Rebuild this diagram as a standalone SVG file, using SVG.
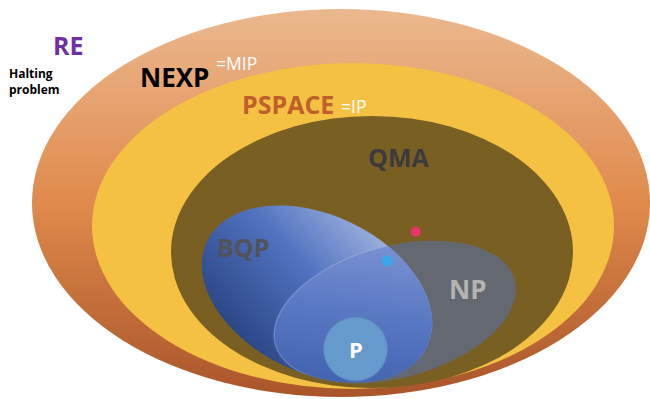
<svg xmlns="http://www.w3.org/2000/svg" width="650" height="399" viewBox="0 0 650 399">
  <defs>
    <linearGradient id="gOuter" x1="0" y1="0" x2="0" y2="1">
      <stop offset="0" stop-color="#EBB88F"/>
      <stop offset="0.5" stop-color="#E08A4C"/>
      <stop offset="1" stop-color="#A9552A"/>
    </linearGradient>
    <linearGradient id="gBQP" gradientUnits="userSpaceOnUse" x1="330" y1="205" x2="262" y2="378">
      <stop offset="0" stop-color="#9CB0DE"/>
      <stop offset="0.42" stop-color="#5072BF"/>
      <stop offset="1" stop-color="#28427F"/>
    </linearGradient>
    <linearGradient id="gOver" gradientUnits="userSpaceOnUse" x1="390" y1="240" x2="330" y2="385">
      <stop offset="0" stop-color="#7890D0"/>
      <stop offset="0.5" stop-color="#5676C2"/>
      <stop offset="1" stop-color="#3F5FAC"/>
    </linearGradient>
    <clipPath id="clipBQP">
      <ellipse cx="317" cy="294" rx="122" ry="79" transform="rotate(25.5 317 294)"/>
    </clipPath>
    <style>
      text { font-family: "Open Sans", "Noto Sans", "Liberation Sans", sans-serif; }
      .b { font-weight: 700; }
      .eq { font-size: 17.5px; fill: #FFFFFF; }
      .halt { font-size: 12px; font-weight: 700; fill: #000000; }
    </style>
  </defs>

  <g id="nexp">
    <ellipse cx="341" cy="203" rx="309" ry="194" fill="url(#gOuter)"/>
    <text class="b" x="140" y="87" font-size="26" fill="#000000">NEXP</text>
    <text class="eq" x="216" y="70">=MIP</text>
  </g>

  <g id="pspace">
    <ellipse cx="353" cy="226" rx="261" ry="163" fill="#F4C143"/>
    <text class="b" x="242" y="114" font-size="25" fill="#BF5F2A">PSPACE</text>
    <text class="eq" x="341" y="113">=IP</text>
  </g>

  <g id="qma">
    <ellipse cx="372" cy="252" rx="201" ry="136" fill="#7A5F22"/>
    <text class="b" x="368" y="167" font-size="25" fill="#3B3B3D">QMA</text>
  </g>

  <g id="np">
    <ellipse cx="395" cy="312" rx="124" ry="66" transform="rotate(-15 395 312)" fill="#646870"/>
    <text class="b" x="449" y="299" font-size="26" fill="#B4B4B4">NP</text>
  </g>

  <g id="bqp">
    <ellipse cx="317" cy="294" rx="122" ry="79" transform="rotate(25.5 317 294)" fill="url(#gBQP)"/>
    <g clip-path="url(#clipBQP)">
      <ellipse cx="395" cy="312" rx="124" ry="66" transform="rotate(-15 395 312)" fill="url(#gOver)" stroke="#A8BAE4" stroke-opacity="0.35" stroke-width="1.5"/>
    </g>
    <text class="b" x="217" y="257" font-size="25" fill="#515359">BQP</text>
  </g>

  <g id="p">
    <circle cx="355.5" cy="349" r="32" fill="#6699CC" stroke="#5A86B6" stroke-width="1"/>
    <text class="b" x="349" y="358" font-size="22" fill="#FFFFFF">P</text>
  </g>

  <g id="dots">
    <circle cx="415.7" cy="231.7" r="5" fill="#E8336A"/>
    <circle cx="387.3" cy="261" r="5.5" fill="#3AA8E8"/>
  </g>

  <g id="re">
    <text class="b" x="53" y="55" font-size="25" fill="#7030A0">RE</text>
    <text class="halt" x="9" y="78">Halting</text>
    <text class="halt" x="9" y="94">problem</text>
  </g>

  <g id="connectors"></g>
</svg>
